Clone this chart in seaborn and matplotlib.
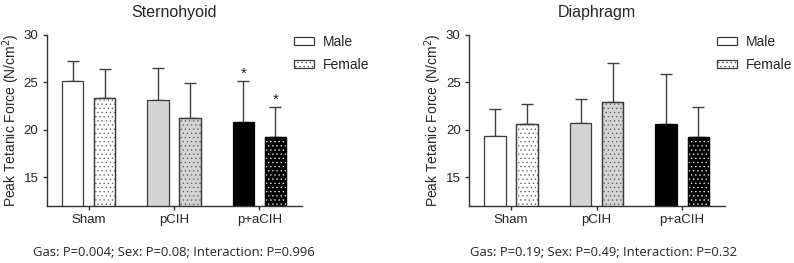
import matplotlib
matplotlib.use("Agg")
import matplotlib.pyplot as plt
import seaborn as sns
import pandas as pd
from matplotlib.patches import Patch, Rectangle

# data (mean and upward SD)
groups = ["Sham", "pCIH", "p+aCIH"]
sexes = ["Male", "Female"]

sterno_male = [25.2, 23.1, 20.8]
sterno_female = [23.4, 21.2, 19.2]
sterno_male_sd = [2.1, 3.4, 4.3]
sterno_female_sd = [3.05, 3.7, 3.2]
sterno_stars = [["", ""], ["", ""], ["*", "*"]]
sterno_stats = "Gas: P=0.004; Sex: P=0.08; Interaction: P=0.996"

diaph_male = [19.3, 20.75, 20.6]
diaph_female = [20.65, 22.9, 19.2]
diaph_male_sd = [2.9, 2.5, 5.3]
diaph_female_sd = [2.05, 4.1, 3.2]
diaph_stars = [["", ""], ["", ""], ["", ""]]
diaph_stats = "Gas: P=0.19; Sex: P=0.49; Interaction: P=0.32"

sns.set_theme(style="ticks")
plt.rcParams["font.family"] = ["Liberation Sans", "DejaVu Sans"]
plt.rcParams["hatch.linewidth"] = 0.4

face_cols = ["white", "#d4d4d4", "black"]
dot_cols = ["#555555", "#555555", "white"]
edge_col = "#3c3c3c"


def make_df(male, female, male_sd, female_sd):
    rows = []
    for i, g in enumerate(groups):
        rows.append({"gas": g, "sex": "Male", "force": male[i], "sd": male_sd[i]})
        rows.append({"gas": g, "sex": "Female", "force": female[i], "sd": female_sd[i]})
    return pd.DataFrame(rows)


def panel(ax, df, stars, title):
    sns.barplot(data=df, x="gas", y="force", hue="sex", order=groups,
                hue_order=sexes, errorbar=None, width=0.75, gap=0.333,
                palette=["white", "white"], legend=False, ax=ax)
    bars = sorted(ax.patches, key=lambda p: p.get_x())
    for k, p in enumerate(bars):
        gi, si = divmod(k, 2)
        ec = edge_col if gi < 2 else "black"
        p.set_facecolor(face_cols[gi])
        p.set_edgecolor(ec)
        p.set_linewidth(0.9)
        p.set_zorder(2)
        if si == 1:
            ax.add_patch(Rectangle((p.get_x(), p.get_y()), p.get_width(), p.get_height(),
                                   facecolor="none", edgecolor=dot_cols[gi], lw=0,
                                   hatch="....", zorder=3))
            ax.add_patch(Rectangle((p.get_x(), p.get_y()), p.get_width(), p.get_height(),
                                   facecolor="none", edgecolor=ec, lw=0.9, zorder=4))
        row = df[(df["gas"] == groups[gi]) & (df["sex"] == sexes[si])].iloc[0]
        xc = p.get_x() + p.get_width() / 2
        ax.errorbar(xc, row["force"], yerr=[[0], [row["sd"]]], fmt="none",
                    ecolor="#404040", elinewidth=1.0, capsize=4.3, capthick=1.0, zorder=1)
        if stars[gi][si]:
            ax.text(xc, row["force"] + row["sd"] + 0.05, stars[gi][si], ha="center",
                    va="bottom", fontsize=11, color="#222222")

    ax.set_ylim(12, 30)
    ax.set_xlim(-0.49, 2.5)
    ax.set_yticks([15, 20, 25, 30])
    ax.set_xlabel("")
    ax.set_ylabel("Peak Tetanic Force (N/cm$^2$)", fontsize=10, labelpad=1)
    ax.set_title(title, fontsize=11.5, pad=13)
    sns.despine(ax=ax)
    for s in ["left", "bottom"]:
        ax.spines[s].set_color("#333333")
        ax.spines[s].set_linewidth(1.0)
    ax.tick_params(axis="both", length=3, width=1.0, color="#333333", pad=3)
    ax.tick_params(axis="x", labelsize=9.5)
    ax.tick_params(axis="y", labelsize=9.5)


fig = plt.figure(figsize=(7.94, 2.63), dpi=100)
ax1 = fig.add_axes([0.0588, 0.2179, 0.3804 - 0.0588, 0.867 - 0.2179])
ax2 = fig.add_axes([0.5907, 0.2179, 0.9131 - 0.5907, 0.867 - 0.2179])

panel(ax1, make_df(sterno_male, sterno_female, sterno_male_sd, sterno_female_sd),
      sterno_stars, "Sternohyoid")
panel(ax2, make_df(diaph_male, diaph_female, diaph_male_sd, diaph_female_sd),
      diaph_stars, "Diaphragm")

handles = [Patch(facecolor="white", edgecolor=edge_col, lw=0.9),
           Patch(facecolor="white", edgecolor=edge_col, lw=0.9, hatch="....")]
for xa in [294 / 794, 717 / 794]:
    fig.legend(handles, sexes, loc="upper left", bbox_to_anchor=(xa, 0.866),
               frameon=False, fontsize=10, handlelength=1.45, handleheight=0.5,
               handletextpad=0.65, labelspacing=0.6, borderpad=0, borderaxespad=0)

fig.text(174 / 794, 1 - 252 / 263, sterno_stats, ha="center", va="center",
         fontsize=9.4, family=["Open Sans", "DejaVu Sans"])
fig.text(603 / 794, 1 - 252 / 263, diaph_stats, ha="center", va="center",
         fontsize=9.4, family=["Open Sans", "DejaVu Sans"])

fig.savefig("out.png", dpi=100)
